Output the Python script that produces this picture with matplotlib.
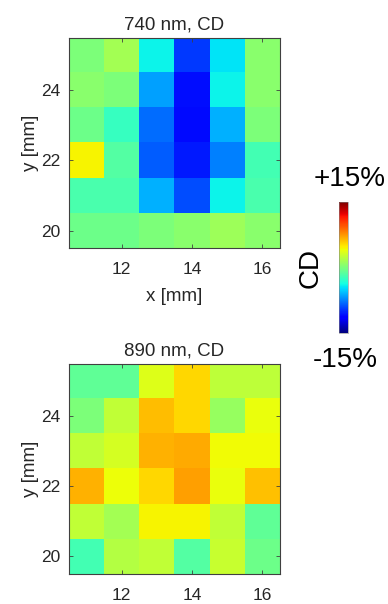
import matplotlib
matplotlib.use("Agg")
import matplotlib.pyplot as plt
import numpy as np

plt.rcParams['font.family'] = ['Liberation Sans', 'DejaVu Sans']

# CD maps in percent, rows from y=25 (top) down to y=20, columns x=11..16
x_pos = [11, 12, 13, 14, 15, 16]
y_pos = [25, 24, 23, 22, 21, 20]

cd_740 = [
    [0.0, 1.5, -4.0, -9.5, -4.5, 0.5],
    [0.5, 0.0, -6.5, -10.8, -4.0, 0.5],
    [-0.5, -2.5, -8.0, -11.0, -6.0, 0.0],
    [4.5, -1.5, -8.5, -10.5, -7.5, -2.0],
    [-1.8, -1.8, -6.0, -9.0, -4.0, -1.8],
    [-0.5, -0.5, 0.0, 0.5, 1.2, 0.5],
]

cd_890 = [
    [-1.0, -1.0, 3.6, 5.5, 2.4, 2.4],
    [0.0, 2.5, 6.3, 5.4, 1.0, 4.0],
    [2.5, 3.2, 6.6, 6.8, 4.3, 4.3],
    [6.6, 4.2, 5.4, 7.2, 4.0, 6.2],
    [2.5, 1.5, 4.5, 4.5, 2.5, -1.0],
    [-2.0, 2.0, 2.5, -1.5, 2.8, -0.5],
]

titles = ['740 nm, CD', '890 nm, CD']
x_ticks = [12, 14, 16]
y_ticks = [20, 22, 24]
cd_min, cd_max = -15, 15

frame_col = '#404040'
text_col = '#262626'

fig = plt.figure(figsize=(3.88, 6.04), dpi=100)
ax_top = fig.add_axes([0.1778, 0.5894, 0.5438, 0.3477])
ax_bot = fig.add_axes([0.1778, 0.0497, 0.5438, 0.3477])

extent = (x_pos[0] - 0.5, x_pos[-1] + 0.5, y_pos[-1] - 0.5, y_pos[0] + 0.5)

for ax, data, title in zip([ax_top, ax_bot], [cd_740, cd_890], titles):
    im = ax.imshow(np.array(data), cmap='jet', vmin=cd_min, vmax=cd_max,
                   origin='upper', extent=extent, interpolation='nearest',
                   aspect='auto')
    ax.set_xticks(x_ticks)
    ax.set_yticks(y_ticks)
    ax.tick_params(direction='in', top=True, right=True, length=3,
                   width=0.6, colors=frame_col, labelcolor=text_col,
                   labelsize=12.5)
    ax.tick_params(axis='x', pad=10)
    ax.tick_params(axis='y', pad=6)
    for s in ax.spines.values():
        s.set_color(frame_col)
        s.set_linewidth(0.8)
    ax.set_title(title, fontsize=13.5, color=text_col, pad=6)
    ax.set_ylabel('y [mm]', fontsize=13.5, color=text_col, labelpad=2)

ax_top.set_xlabel('x [mm]', fontsize=13.5, color=text_col, labelpad=8)

# colour bar with the range written above and below
cax = fig.add_axes([0.8737, 0.4487, 0.0232, 0.2169])
cb = fig.colorbar(im, cax=cax)
cb.set_ticks([])
cb.outline.set_linewidth(0.4)
cb.outline.set_edgecolor('#808080')
fig.text(0.9, 0.682, '+15%', fontsize=20, ha='center', va='bottom', color='black')
fig.text(0.89, 0.425, '-15%', fontsize=20, ha='center', va='top', color='black')
fig.text(0.80, 0.556, 'CD', fontsize=20, rotation=90, ha='center', va='center', color='black')

fig.savefig('out.png', dpi=100)
